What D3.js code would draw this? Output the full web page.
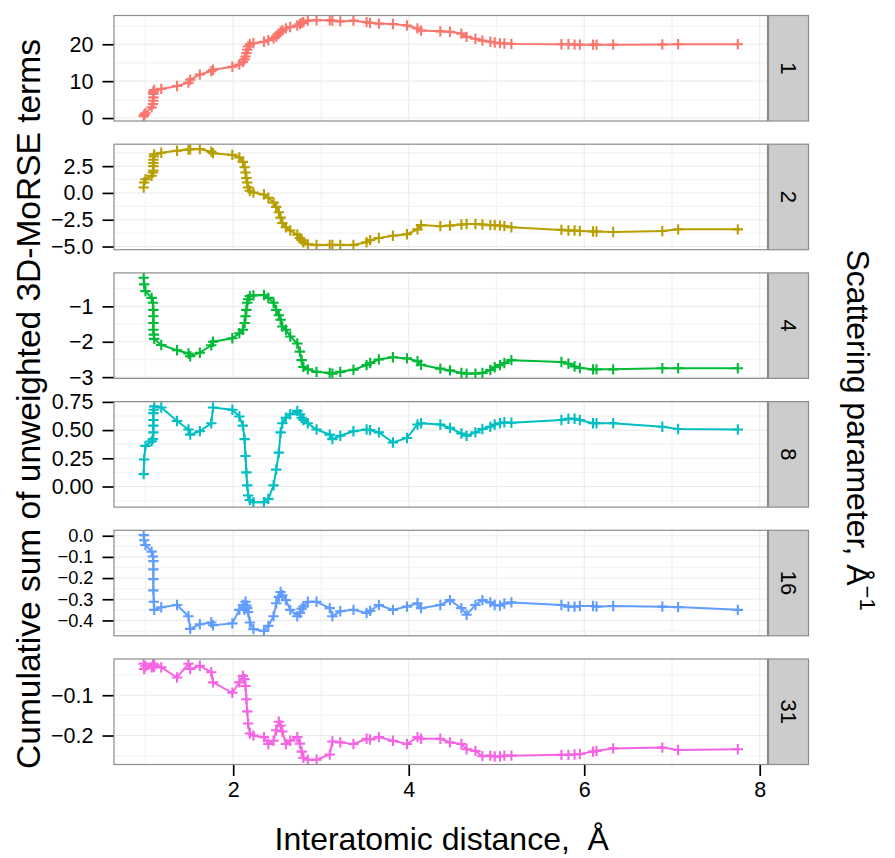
<!DOCTYPE html>
<html>
<head>
<meta charset="utf-8">
<script src="https://cdn.jsdelivr.net/npm/d3@7"></script>
<style>
  body { margin: 0; background: #ffffff; }
  svg { display: block; }
  text { font-family: "Liberation Sans", Arial, Helvetica, sans-serif; fill: #000; }
</style>
</head>
<body>
<svg id="chart" width="895" height="858"></svg>
<script>
// Interatomic distances (Å) shared by every scattering-parameter series
const distances = [0.98,0.985,1.00,1.07,1.085,1.09,1.09,1.09,1.09,1.095,
  1.10,1.18,1.36,1.49,1.51,1.62,1.75,1.77,1.99,2.07,
  2.11,2.13,2.14,2.15,2.16,2.17,2.19,2.23,2.35,2.40,
  2.46,2.49,2.52,2.54,2.56,2.60,2.65,2.73,2.76,2.78,
  2.80,2.85,2.95,3.10,3.13,3.22,3.37,3.52,3.56,3.66,
  3.82,3.98,4.10,4.14,4.36,4.47,4.60,4.66,4.76,4.84,
  4.93,4.98,5.04,5.09,5.17,5.74,5.82,5.89,5.95,6.10,
  6.14,6.33,6.89,7.07,7.75];

// Cumulative sums of unweighted 3D-MoRSE terms, one array per scattering parameter
const morse1 = [0.5,0.9,1.3,2.9,3.8,4.7,5.6,6.5,7.0,7.4,
  7.6,7.9,8.7,9.6,10.4,11.8,12.7,13.1,13.9,14.5,
  15.2,15.9,16.7,17.6,18.5,19.4,20.0,20.3,20.7,21.1,
  21.6,22.1,22.9,23.4,23.8,24.3,24.7,25.1,25.5,25.8,
  26.0,26.4,26.5,26.5,26.4,26.2,26.4,26.0,25.8,25.6,
  25.5,25.1,24.3,23.7,23.5,23.4,22.9,22.0,21.5,21.0,
  20.7,20.5,20.3,20.2,20.1,20.0,20.0,19.9,19.9,19.9,
  19.9,19.9,19.95,20.0,20.0];
const morse2 = [0.5,0.97,1.28,1.6,1.9,2.1,2.5,2.8,3.1,3.4,
  3.6,3.75,3.93,4.05,4.08,4.1,3.85,3.7,3.55,3.3,
  2.9,2.4,1.9,1.4,0.97,0.5,0.2,0.03,-0.15,-0.45,
  -0.9,-1.3,-1.8,-2.3,-2.8,-3.2,-3.5,-3.9,-4.2,-4.4,
  -4.6,-4.8,-4.85,-4.85,-4.85,-4.85,-4.85,-4.6,-4.4,-4.2,
  -4.0,-3.85,-3.4,-3.0,-3.1,-3.05,-2.95,-2.9,-2.9,-2.95,
  -3.0,-3.0,-3.05,-3.1,-3.2,-3.45,-3.5,-3.5,-3.55,-3.6,
  -3.6,-3.65,-3.55,-3.4,-3.4];
const morse4 = [-0.19,-0.38,-0.57,-0.76,-0.9,-1.1,-1.28,-1.47,-1.66,-1.8,
  -1.92,-2.09,-2.24,-2.33,-2.41,-2.31,-2.1,-2.0,-1.9,-1.76,
  -1.66,-1.47,-1.28,-1.1,-0.9,-0.8,-0.71,-0.69,-0.68,-0.76,
  -0.9,-1.1,-1.25,-1.38,-1.57,-1.66,-1.85,-2.05,-2.28,-2.52,
  -2.71,-2.78,-2.85,-2.88,-2.9,-2.85,-2.79,-2.66,-2.6,-2.5,
  -2.44,-2.47,-2.55,-2.65,-2.76,-2.81,-2.88,-2.9,-2.9,-2.88,
  -2.8,-2.72,-2.66,-2.6,-2.52,-2.57,-2.62,-2.7,-2.74,-2.78,
  -2.78,-2.78,-2.75,-2.75,-2.75];
const morse8 = [0.11,0.24,0.36,0.40,0.42,0.48,0.54,0.59,0.65,0.68,
  0.71,0.70,0.58,0.505,0.46,0.49,0.56,0.70,0.68,0.62,
  0.54,0.42,0.27,0.125,0.01,-0.08,-0.12,-0.14,-0.14,-0.11,
  0.01,0.15,0.30,0.48,0.56,0.61,0.64,0.67,0.64,0.61,
  0.59,0.56,0.505,0.46,0.42,0.45,0.49,0.505,0.50,0.48,
  0.39,0.43,0.55,0.56,0.55,0.52,0.47,0.45,0.48,0.51,
  0.53,0.55,0.56,0.57,0.565,0.59,0.60,0.60,0.59,0.56,
  0.56,0.56,0.53,0.51,0.505];
const morse16 = [0.003,-0.021,-0.044,-0.075,-0.098,-0.12,-0.159,-0.205,-0.258,-0.312,
  -0.35,-0.338,-0.327,-0.38,-0.44,-0.418,-0.41,-0.423,-0.414,-0.35,
  -0.327,-0.35,-0.312,-0.33,-0.342,-0.36,-0.41,-0.441,-0.45,-0.426,
  -0.38,-0.319,-0.289,-0.266,-0.281,-0.304,-0.35,-0.38,-0.365,-0.345,
  -0.335,-0.312,-0.312,-0.342,-0.38,-0.357,-0.35,-0.365,-0.355,-0.327,
  -0.35,-0.335,-0.319,-0.342,-0.327,-0.304,-0.342,-0.373,-0.327,-0.304,
  -0.315,-0.327,-0.33,-0.32,-0.315,-0.327,-0.335,-0.335,-0.332,-0.332,
  -0.335,-0.332,-0.335,-0.337,-0.35];
const morse31 = [-0.022,-0.035,-0.028,-0.031,-0.027,-0.025,-0.022,-0.028,-0.024,-0.030,
  -0.025,-0.031,-0.056,-0.022,-0.035,-0.027,-0.043,-0.068,-0.094,-0.068,
  -0.052,-0.06,-0.077,-0.11,-0.14,-0.17,-0.195,-0.20,-0.204,-0.221,
  -0.213,-0.187,-0.166,-0.175,-0.19,-0.221,-0.213,-0.204,-0.22,-0.24,
  -0.255,-0.26,-0.26,-0.247,-0.215,-0.217,-0.221,-0.208,-0.21,-0.204,
  -0.213,-0.221,-0.204,-0.208,-0.208,-0.217,-0.221,-0.234,-0.238,-0.251,
  -0.25,-0.252,-0.252,-0.25,-0.25,-0.248,-0.248,-0.247,-0.246,-0.24,
  -0.238,-0.232,-0.23,-0.236,-0.234];

// Facet labels (scattering parameter), colours and axis ticks
const scatterLabels = ["1", "2", "4", "8", "16", "31"];
const seriesColors = ["#F8766D", "#B79F00", "#00BA38", "#00BFC4", "#619CFF", "#F564E3"];
const yTickValues = [[0, 10, 20], [-5, -2.5, 0, 2.5], [-3, -2, -1],
  [0, 0.25, 0.5, 0.75], [-0.4, -0.3, -0.2, -0.1, 0], [-0.2, -0.1]];
const yTickFormats = ["d", ".1f", "d", ".2f", ".1f", ".1f"];
const xTickValues = [2, 4, 6, 8];
const xMinorValues = [1, 3, 5, 7];

const series = [morse1, morse2, morse4, morse8, morse16, morse31];

// Layout
const panelLeft = 114, panelRight = 767.5;
const panelTop0 = 15.5, panelH = 105.5, panelStep = 128.7;
const stripX = 768.5, stripW = 40;
const tickFont = 21.5;

const svg = d3.select("#chart");
svg.append("rect").attr("width", 895).attr("height", 858).attr("fill", "#fff");

function expand([a, b]) { const p = (b - a) * 0.05; return [a - p, b + p]; }

const x = d3.scaleLinear().domain(expand(d3.extent(distances))).range([panelLeft, panelRight]);
const crossPath = "M-5.2,0H5.2M0,-5.2V5.2";

series.forEach((vals, i) => {
  const top = panelTop0 + i * panelStep;
  const bottom = top + panelH;
  const y = d3.scaleLinear().domain(expand(d3.extent(vals))).range([bottom, top]);
  const g = svg.append("g");

  const clipId = "clip" + i;
  svg.append("clipPath").attr("id", clipId)
    .append("rect").attr("x", panelLeft).attr("y", top)
    .attr("width", panelRight - panelLeft).attr("height", panelH);

  // minor grid
  const ticks = yTickValues[i];
  const step = ticks[1] - ticks[0];
  const dom = y.domain();
  const yMinor = [];
  for (let k = -1; k < ticks.length; k++) {
    const v = ticks[0] + (k + 0.5) * step;
    if (v >= dom[0] && v <= dom[1]) yMinor.push(v);
  }
  const grid = g.append("g");
  grid.selectAll(".ymin").data(yMinor).join("line")
    .attr("x1", panelLeft).attr("x2", panelRight)
    .attr("y1", d => y(d)).attr("y2", d => y(d))
    .attr("stroke", "#f4f4f4").attr("stroke-width", 1.4);
  grid.selectAll(".xmin").data(xMinorValues).join("line")
    .attr("x1", d => x(d)).attr("x2", d => x(d))
    .attr("y1", top).attr("y2", bottom)
    .attr("stroke", "#f4f4f4").attr("stroke-width", 1.4);
  // major grid
  grid.selectAll(".ymaj").data(ticks).join("line")
    .attr("x1", panelLeft).attr("x2", panelRight)
    .attr("y1", d => y(d)).attr("y2", d => y(d))
    .attr("stroke", "#ebebeb").attr("stroke-width", 1.1);
  grid.selectAll(".xmaj").data(xTickValues).join("line")
    .attr("x1", d => x(d)).attr("x2", d => x(d))
    .attr("y1", top).attr("y2", bottom)
    .attr("stroke", "#ebebeb").attr("stroke-width", 1.1);

  // line and cross markers
  const pts = distances.map((d, k) => [d, vals[k]]);
  const plot = g.append("g").attr("clip-path", `url(#${clipId})`);
  plot.append("path")
    .attr("d", d3.line().x(d => x(d[0])).y(d => y(d[1]))(pts))
    .attr("fill", "none").attr("stroke", seriesColors[i]).attr("stroke-width", 2);
  plot.selectAll(".pt").data(pts).join("path")
    .attr("transform", d => `translate(${x(d[0])},${y(d[1])})`)
    .attr("d", crossPath)
    .attr("stroke", seriesColors[i]).attr("stroke-width", 2.1).attr("fill", "none");

  // panel border
  g.append("rect").attr("x", panelLeft).attr("y", top)
    .attr("width", panelRight - panelLeft).attr("height", panelH)
    .attr("fill", "none").attr("stroke", "#8c8c8c").attr("stroke-width", 1.2);

  // y axis (tightly spaced ticks get a slightly smaller font)
  const spacing = Math.abs(y(ticks[1]) - y(ticks[0]));
  const labelFont = Math.min(tickFont, spacing / 1.16);
  const yAxis = d3.axisLeft(y).tickValues(ticks).tickSize(11).tickPadding(9)
    .tickFormat(d3.format(yTickFormats[i]));
  const ya = g.append("g").attr("transform", `translate(${panelLeft - 0.5},0)`).call(yAxis);
  ya.select(".domain").remove();
  ya.selectAll(".tick line").attr("stroke", "#000").attr("stroke-width", 1.7);
  ya.selectAll(".tick text").attr("font-size", labelFont)
    .style("font-family", '"Liberation Sans", Arial, sans-serif').attr("fill", "#000");

  // strip on the right
  g.append("rect").attr("x", stripX).attr("y", top).attr("width", stripW).attr("height", panelH)
    .attr("fill", "#cccccc").attr("stroke", "#8c8c8c").attr("stroke-width", 1.2);
  g.append("text")
    .attr("transform", `translate(${stripX + stripW / 2},${top + panelH / 2}) rotate(90)`)
    .attr("text-anchor", "middle").attr("dy", "0.35em").attr("font-size", 22)
    .text(scatterLabels[i]);

  // x axis under the last panel
  if (i === series.length - 1) {
    const xAxis = d3.axisBottom(x).tickValues(xTickValues).tickSize(11).tickPadding(6)
      .tickFormat(d3.format("d"));
    const xa = g.append("g").attr("transform", `translate(0,${bottom + 0.5})`).call(xAxis);
    xa.select(".domain").remove();
    xa.selectAll(".tick line").attr("stroke", "#000").attr("stroke-width", 1.7);
    xa.selectAll(".tick text").attr("font-size", tickFont)
      .style("font-family", '"Liberation Sans", Arial, sans-serif').attr("fill", "#000");
  }
});

// axis titles
svg.append("text")
  .attr("x", (panelLeft + panelRight) / 2 + 1).attr("y", 850)
  .attr("text-anchor", "middle").attr("font-size", 32)
  .text("Interatomic distance,\u00a0\u00a0Å");

svg.append("text")
  .attr("transform", `translate(40,404) rotate(-90)`)
  .attr("text-anchor", "middle").attr("font-size", 33.5)
  .text("Cumulative sum of unweighted 3D-MoRSE terms");

const rt = svg.append("text")
  .attr("transform", `translate(847,430) rotate(90)`)
  .attr("text-anchor", "middle").attr("font-size", 32);
rt.append("tspan").text("Scattering parameter, Å");
rt.append("tspan").attr("dy", -13).attr("font-size", 22).text("\u22121");
</script>
</body>
</html>
